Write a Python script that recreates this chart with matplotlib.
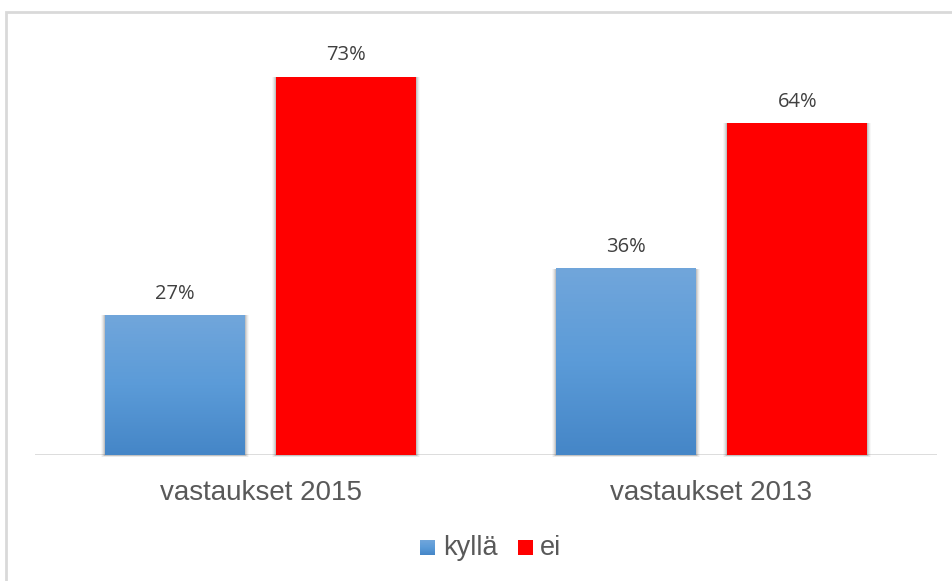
import matplotlib
matplotlib.use("Agg")
import matplotlib.pyplot as plt
import numpy as np
from matplotlib.patches import Rectangle
from matplotlib.colors import LinearSegmentedColormap

categories = ["vastaukset 2015", "vastaukset 2013"]
series_names = ["kyllä", "ei"]
kylla = [27, 36]
ei = [73, 64]

W, H = 952, 581
fig = plt.figure(figsize=(W / 100, H / 100), dpi=100)
fig.patch.set_facecolor("white")

# outer chart border (runs off right/bottom)
fig.add_artist(Rectangle((6 / W, -0.1), 1.2, (H - 12) / H + 0.1, transform=fig.transFigure,
                         fill=False, edgecolor="#d9d9d9", linewidth=2))

ax_left, ax_right = 35, 937
ax_bottom_px, ax_top_px = 455, 40.6
ax = fig.add_axes([ax_left / W, 1 - ax_bottom_px / H, (ax_right - ax_left) / W,
                   (ax_bottom_px - ax_top_px) / H])
ax.set_xlim(-0.5, 1.5)
ax.set_ylim(0, 80)
ax.axis("off")

px_x = 2.0 / (ax_right - ax_left)
px_y = 80.0 / (ax_bottom_px - ax_top_px)

x = np.arange(len(categories))
bw = 0.31
off = 0.19

blue_cmap = LinearSegmentedColormap.from_list("b", ["#4586c7", "#5b9bd8", "#71a6db"])
grad = np.linspace(0, 1, 256).reshape(-1, 1)

def shadow(xc, h):
    for d, a in [(1, 0.10), (2, 0.07), (3, 0.05), (4, 0.03)]:
        ax.add_patch(Rectangle((xc - bw / 2 - d * px_x, -d * px_y * 0.6), bw + 2 * d * px_x,
                               h + d * px_y * 0.6, facecolor="black", alpha=a,
                               edgecolor="none", zorder=1, clip_on=False))

label_kw = dict(ha="center", va="baseline", fontsize=14.5, color="#404040", family="Open Sans")

for i, (k, e) in enumerate(zip(kylla, ei)):
    xb = x[i] - off
    shadow(xb, k)
    ax.imshow(grad, cmap=blue_cmap, origin="lower", aspect="auto",
              extent=(xb - bw / 2, xb + bw / 2, 0, k), zorder=2)
    ax.text(xb, k + 16.5 * px_y, f"{k}%", **label_kw)
    xr = x[i] + off
    shadow(xr, e)
    ax.bar(xr, e, width=bw, color="#ff0000", zorder=2, linewidth=0)
    ax.text(xr, e + 16.5 * px_y, f"{e}%", **label_kw)

ax.set_xlim(-0.5, 1.5)
ax.set_ylim(0, 80)
ax.axhline(0, color="#d9d9d9", linewidth=2, zorder=0.5)

for i, c in enumerate(categories):
    fig.text((ax_left + (x[i] + 0.5) * (ax_right - ax_left) / 2) / W, 1 - 493 / H, c,
             ha="center", va="center", fontsize=20, color="#595959", family="Liberation Sans")

# legend
lx = fig.add_axes([0, 0, 1, 1], zorder=-1)
lx.set_xlim(0, W)
lx.set_ylim(H, 0)
lx.axis("off")
img = np.linspace(1, 0, 64).reshape(-1, 1)
lx.imshow(img, cmap=blue_cmap, extent=(420, 435, 555, 540), aspect="auto")
lx.add_patch(Rectangle((518, 540), 15, 15, facecolor="#ff0000", edgecolor="none"))
lx.text(443, 548, series_names[0], va="center", ha="left", fontsize=19.5, color="#595959",
        family="Liberation Sans")
lx.text(540, 548, series_names[1], va="center", ha="left", fontsize=19.5, color="#595959",
        family="Liberation Sans")
lx.set_xlim(0, W)
lx.set_ylim(H, 0)

fig.savefig("out.png", dpi=100, facecolor="white")
